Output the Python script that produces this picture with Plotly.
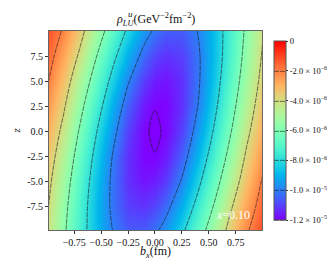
import numpy as np
import plotly.graph_objects as go

# transverse position b_x (fm) and z grid
b_x = [-1.0, -0.85, -0.7, -0.55, -0.4, -0.25, -0.1, 0.0, 0.1, 0.25, 0.4, 0.55, 0.7, 0.85, 1.0]
z_vals = [-10.0, -7.5, -5.0, -2.5, 0.0, 2.5, 5.0, 7.5, 10.0]

# rho values in units of 1e-6 GeV^-2 fm^-2, one row per z (from z=-10 to z=10)
row_zm10 = [-4.12, -5.76, -7.35, -8.79, -9.96, -10.59, -10.57, -10.18, -9.53, -8.24, -6.72, -5.11, -3.53, -2.14, -1.13]
row_zm75 = [-3.88, -5.56, -7.23, -8.81, -10.17, -11.06, -11.25, -10.98, -10.38, -9.11, -7.56, -5.90, -4.20, -2.73, -1.47]
row_zm5 = [-3.59, -5.25, -6.98, -8.65, -10.17, -11.28, -11.72, -11.58, -11.11, -9.90, -8.33, -6.63, -4.91, -3.29, -1.89]
row_zm25 = [-3.22, -4.84, -6.60, -8.34, -9.98, -11.27, -11.96, -11.98, -11.63, -10.54, -9.01, -7.30, -5.55, -3.82, -2.36]
row_z0 = [-2.81, -4.35, -6.12, -7.88, -9.56, -11.03, -11.92, -12.10, -11.92, -11.03, -9.56, -7.88, -6.12, -4.35, -2.81]
row_zp25 = [-2.36, -3.82, -5.55, -7.30, -9.01, -10.54, -11.63, -11.98, -11.96, -11.27, -9.98, -8.34, -6.60, -4.84, -3.22]
row_zp5 = [-1.89, -3.29, -4.91, -6.63, -8.33, -9.90, -11.11, -11.58, -11.72, -11.28, -10.17, -8.65, -6.98, -5.25, -3.59]
row_zp75 = [-1.47, -2.73, -4.20, -5.90, -7.56, -9.11, -10.38, -10.98, -11.25, -11.06, -10.17, -8.81, -7.23, -5.56, -3.88]
row_zp10 = [-1.13, -2.14, -3.53, -5.11, -6.72, -8.24, -9.53, -10.18, -10.57, -10.59, -9.96, -8.79, -7.35, -5.76, -4.12]

rows = [row_zm10, row_zm75, row_zm5, row_zm25, row_z0, row_zp25, row_zp5, row_zp75, row_zp10]
rho = np.array(rows) * 1e-6

x_ticks = [-0.75, -0.5, -0.25, 0.0, 0.25, 0.5, 0.75]
x_ticktext = ["\u22120.75", "\u22120.50", "\u22120.25", "0.00", "0.25", "0.50", "0.75"]
y_ticks = [-7.5, -5.0, -2.5, 0.0, 2.5, 5.0, 7.5]
y_ticktext = ["-7.5", "-5.0", "-2.5", "0.0", "2.5", "5.0", "7.5"]
cb_ticks = [-1.2e-5, -1.0e-5, -8e-6, -6e-6, -4e-6, -2e-6, 0.0]
cb_ticktext = ["-1.2 \u00d7 10<sup>\u22125</sup>", "-1.0 \u00d7 10<sup>\u22125</sup>",
               "-8.0 \u00d7 10<sup>\u22126</sup>", "-6.0 \u00d7 10<sup>\u22126</sup>",
               "-4.0 \u00d7 10<sup>\u22126</sup>", "-2.0 \u00d7 10<sup>\u22126</sup>", "0"]

# matplotlib "rainbow" colormap
def rainbow(t):
    r = min(1.0, abs(2 * t - 0.5))
    g = np.sin(np.pi * t)
    b = np.cos(np.pi * t / 2)
    return "rgb(%d,%d,%d)" % (round(255 * r), round(255 * max(g, 0)), round(255 * max(b, 0)))

colorscale = [[t, rainbow(t)] for t in np.linspace(0, 1, 41)]

FONT = "Liberation Serif, Times New Roman, DejaVu Serif, serif"

fig = go.Figure()
fig.add_trace(go.Contour(
    x=b_x, y=z_vals, z=rho,
    colorscale=colorscale, zmin=-1.2e-5, zmax=0.0,
    contours=dict(coloring="heatmap", start=-1.2e-5, end=-2e-6, size=2e-6, showlabels=False),
    line=dict(color="rgba(25,25,25,0.85)", width=0.7, dash="5px,1px", smoothing=1.0),
    colorbar=dict(
        x=1.058, xanchor="left", xpad=0, y=0.5, yanchor="middle",
        len=1.0, lenmode="fraction", thickness=12,
        outlinewidth=1, outlinecolor="#555",
        tickvals=cb_ticks, ticktext=cb_ticktext, ticks="outside", ticklen=2,
        tickcolor="#333", tickfont=dict(family=FONT, size=8.5, color="#111"),
    ),
    hoverinfo="skip",
))

fig.add_annotation(x=0.73, y=-8.4, xref="x", yref="y", text="<i>x</i>=0.10",
                   showarrow=False, font=dict(family=FONT, size=12, color="white"))

# title: rho with stacked super/subscripts
fig.add_annotation(x=0.5, y=1.0, xref="paper", yref="paper", yanchor="bottom", yshift=1,
                   text="<i>\u03c1</i><sub><i>LU</i></sub>(GeV<sup>\u22122</sup>fm<sup>\u22122</sup>)",
                   showarrow=False, font=dict(family=FONT, size=12, color="#111"))
fig.add_annotation(x=0.5, y=1.0, xref="paper", yref="paper", yanchor="bottom", xanchor="left",
                   xshift=-30, yshift=10,
                   text="<i>u</i>", showarrow=False, font=dict(family=FONT, size=9, color="#111"))

# axis labels
fig.add_annotation(x=0.5, y=0.0, xref="paper", yref="paper", yanchor="top", yshift=-12,
                   text="<i>b</i><sub><i>x</i></sub>(fm)", showarrow=False,
                   font=dict(family=FONT, size=12, color="#111"))
fig.add_annotation(x=0.0, y=0.5, xref="paper", yref="paper", xanchor="center", xshift=-34,
                   text="<i>z</i>", textangle=-90, showarrow=False,
                   font=dict(family=FONT, size=11, color="#111"))

fig.update_layout(
    width=335, height=258,
    margin=dict(l=41, r=81, t=23, b=36, autoexpand=False),
    paper_bgcolor="white", plot_bgcolor="white",
    font=dict(family=FONT, size=10, color="#111"),
    xaxis=dict(range=[-0.985, 0.995], tickvals=x_ticks, ticktext=x_ticktext,
               tickangle=0, tickfont=dict(family=FONT, size=10), automargin=False,
               ticks="outside", ticklen=3, tickcolor="#333",
               showline=True, mirror=True, linecolor="#666", linewidth=1,
               showgrid=False, zeroline=False),
    yaxis=dict(range=[-9.85, 10.0], tickvals=y_ticks, ticktext=y_ticktext,
               tickfont=dict(family=FONT, size=10), automargin=False,
               ticks="outside", ticklen=3, tickcolor="#333",
               showline=True, mirror=True, linecolor="#666", linewidth=1,
               showgrid=False, zeroline=False),
)

fig.write_html("out.html")
